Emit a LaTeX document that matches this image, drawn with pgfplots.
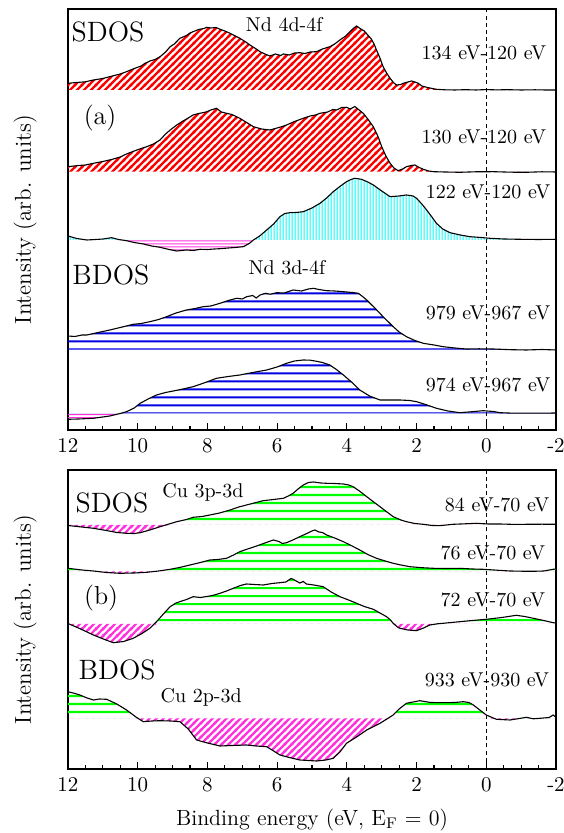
\documentclass[border=0pt]{standalone}
\usepackage{fontspec}
\usepackage{pgfplots}
\usepackage{pgfplotstable}
\pgfplotsset{compat=1.18}
\usetikzlibrary{patterns}

\definecolor{hotpink}{RGB}{255,50,220}
\definecolor{dblue}{RGB}{0,0,225}

% hatch patterns (colour set by pattern color)
\pgfdeclarepatternformonly{diagthick}{\pgfqpoint{0pt}{0pt}}{\pgfqpoint{3.4pt}{3.4pt}}{\pgfqpoint{3.4pt}{3.4pt}}{%
  \pgfsetlinewidth{1.15pt}
  \pgfpathmoveto{\pgfqpoint{-0.5pt}{-0.5pt}}\pgfpathlineto{\pgfqpoint{3.9pt}{3.9pt}}
  \pgfpathmoveto{\pgfqpoint{-0.5pt}{2.9pt}}\pgfpathlineto{\pgfqpoint{0.5pt}{3.9pt}}
  \pgfpathmoveto{\pgfqpoint{2.9pt}{-0.5pt}}\pgfpathlineto{\pgfqpoint{3.9pt}{0.5pt}}
  \pgfusepath{stroke}}
\pgfdeclarepatternformonly{vfine}{\pgfqpoint{0pt}{0pt}}{\pgfqpoint{1.5pt}{30pt}}{\pgfqpoint{1.5pt}{30pt}}{%
  \pgfsetlinewidth{0.7pt}
  \pgfpathmoveto{\pgfqpoint{0.75pt}{-1pt}}\pgfpathlineto{\pgfqpoint{0.75pt}{31pt}}
  \pgfusepath{stroke}}
\pgfdeclarepatternformonly{hfine}{\pgfqpoint{0pt}{0pt}}{\pgfqpoint{30pt}{1.5pt}}{\pgfqpoint{30pt}{1.5pt}}{%
  \pgfsetlinewidth{0.6pt}
  \pgfpathmoveto{\pgfqpoint{-1pt}{0.75pt}}\pgfpathlineto{\pgfqpoint{31pt}{0.75pt}}
  \pgfusepath{stroke}}
\pgfdeclarepatternformonly{hwide}{\pgfqpoint{0pt}{0pt}}{\pgfqpoint{40pt}{4pt}}{\pgfqpoint{40pt}{4pt}}{%
  \pgfsetlinewidth{1.1pt}
  \pgfpathmoveto{\pgfqpoint{-1pt}{2pt}}\pgfpathlineto{\pgfqpoint{41pt}{2pt}}
  \pgfusepath{stroke}}
\pgfdeclarepatternformonly{hwideg}{\pgfqpoint{0pt}{0pt}}{\pgfqpoint{42pt}{4.2pt}}{\pgfqpoint{42pt}{4.2pt}}{%
  \pgfsetlinewidth{1.1pt}
  \pgfpathmoveto{\pgfqpoint{-1pt}{2.1pt}}\pgfpathlineto{\pgfqpoint{43pt}{2.1pt}}
  \pgfusepath{stroke}}

\tikzset{
  redhatch/.style={pattern=diagthick, pattern color=red},
  pinkhatch/.style={pattern=diagthick, pattern color=hotpink},
  cyanvert/.style={pattern=vfine, pattern color=cyan},
  pinkhoriz/.style={pattern=hfine, pattern color=hotpink},
  bluehoriz/.style={pattern=hwide, pattern color=dblue},
  greenhoriz/.style={pattern=hwideg, pattern color=green},
}

% area above / below the baseline: curve clamped at the baseline, closed along it
% #1 table, #2 baseline, #3 fill style
\newcommand{\fillabove}[3]{%
  \addplot[#3, draw=none, y filter/.expression={max(y,#2)}] table {#1}
    -- (axis cs:-2,#2) -- (axis cs:12,#2) -- cycle;
}
\newcommand{\fillbelow}[3]{%
  \addplot[#3, draw=none, y filter/.expression={min(y,#2)}] table {#1}
    -- (axis cs:-2,#2) -- (axis cs:12,#2) -- cycle;
}
\newcommand{\curve}[1]{\addplot[black, line width=0.55pt] table {#1};}

% ---- panel (a): Nd ----
\pgfplotstableread{
E I
12.00 346.7
11.75 347.5
11.50 348.2
11.27 350.0
11.00 351.5
10.75 353.8
10.50 356.0
10.32 358.3
10.10 361.5
9.90 364.0
9.80 366.5
9.65 369.0
9.50 370.5
9.36 373.3
9.20 378.0
9.07 383.3
8.95 386.0
8.79 391.7
8.60 394.5
8.50 397.0
8.41 398.3
8.25 400.5
8.10 401.5
8.02 402.7
7.90 402.0
7.75 402.5
7.64 400.7
7.50 399.0
7.35 396.7
7.20 394.0
7.07 391.7
6.90 388.0
6.78 385.0
6.60 381.0
6.49 378.3
6.35 376.0
6.21 374.0
6.05 376.0
5.90 374.5
5.82 376.0
5.65 375.0
5.50 377.0
5.35 377.3
5.20 376.5
5.05 378.0
4.87 378.3
4.70 381.0
4.49 383.3
4.35 386.0
4.20 390.0
4.05 393.5
3.91 398.3
3.80 402.0
3.72 404.0
3.62 401.5
3.50 399.0
3.40 395.0
3.30 391.0
3.22 386.0
3.15 380.0
3.05 372.0
2.96 363.3
2.86 357.0
2.76 351.7
2.65 347.0
2.57 345.0
2.45 345.5
2.38 346.7
2.25 348.0
2.14 349.0
2.05 348.0
1.95 346.7
1.85 344.0
1.71 342.7
1.55 341.5
1.43 340.7
1.20 340.2
0.90 340.0
0.60 340.3
0.30 340.0
0.00 340.4
-0.30 340.1
-0.60 340.3
-1.00 340.0
-1.40 340.2
-1.70 340.0
-2.00 340.0
}\ndA

\pgfplotstableread{
E I
12.00 263.3
11.70 264.5
11.50 265.0
11.27 266.7
11.00 268.5
10.75 270.5
10.50 273.0
10.32 276.0
10.10 279.0
9.90 281.5
9.74 283.3
9.55 286.0
9.36 290.0
9.20 296.0
9.05 300.5
8.88 305.0
8.70 309.0
8.55 312.0
8.41 315.0
8.25 316.5
8.10 317.5
8.02 318.3
7.90 320.0
7.74 321.7
7.60 318.0
7.45 316.7
7.30 315.5
7.07 311.7
6.90 308.0
6.68 303.3
6.45 301.0
6.21 300.0
6.00 302.0
5.85 303.5
5.73 305.0
5.50 308.5
5.25 311.7
5.05 314.0
4.90 315.0
4.77 316.7
4.55 318.0
4.40 320.5
4.29 320.0
4.15 322.5
4.01 322.7
3.90 321.0
3.77 323.5
3.65 320.0
3.53 316.7
3.40 311.0
3.24 303.3
3.10 293.0
3.00 283.3
2.88 274.0
2.76 266.7
2.65 262.0
2.53 259.3
2.40 261.0
2.29 263.3
2.15 264.5
2.05 265.0
1.95 263.0
1.81 260.7
1.65 259.0
1.52 258.3
1.20 258.0
0.76 257.7
0.30 258.2
-0.20 258.3
-0.70 257.8
-1.15 257.7
-1.60 258.2
-2.00 258.0
}\ndB

\pgfplotstableread{
E I
12.00 194.0
11.75 191.5
11.46 190.0
11.20 190.5
10.99 191.0
10.75 192.3
10.55 190.5
10.32 189.3
10.10 187.5
9.84 186.0
9.60 184.0
9.36 182.7
9.10 180.5
8.88 179.0
8.60 180.0
8.40 179.5
8.21 180.7
8.00 180.5
7.80 181.0
7.64 181.3
7.40 182.0
7.20 182.5
6.97 183.3
6.80 186.5
6.68 190.0
6.50 194.0
6.30 200.0
6.10 206.0
5.92 213.3
5.78 216.5
5.63 217.3
5.45 217.5
5.25 218.3
5.00 222.0
4.77 226.7
4.58 232.0
4.39 238.3
4.20 243.5
4.01 248.3
3.88 250.5
3.77 251.7
3.58 250.7
3.40 248.0
3.24 245.0
3.00 239.0
2.76 233.3
2.50 234.0
2.29 235.0
2.10 234.0
2.00 231.7
1.85 226.0
1.71 220.0
1.55 212.5
1.43 206.7
1.25 201.0
1.04 197.3
0.75 195.0
0.47 193.3
0.15 192.5
-0.10 191.7
-0.50 191.0
-0.96 190.7
-1.50 190.5
-2.00 190.7
}\ndC

\pgfplotstableread{
E I
12.00 94.0
11.80 93.5
11.60 95.0
11.46 95.0
11.20 97.0
11.00 98.5
10.80 100.0
10.50 102.5
10.13 105.7
9.90 106.5
9.65 108.3
9.40 110.5
9.17 113.3
8.90 117.0
8.60 120.0
8.35 121.5
8.12 123.3
7.90 124.0
7.64 126.7
7.40 129.5
7.16 131.7
7.00 131.0
6.87 133.3
6.70 134.5
6.60 132.0
6.49 135.0
6.34 136.7
6.20 135.8
6.01 137.3
5.80 137.0
5.54 140.0
5.30 139.0
5.10 141.0
4.96 141.7
4.80 140.5
4.58 139.3
4.35 139.0
4.10 138.3
3.85 137.5
3.67 136.7
3.55 133.5
3.43 130.0
3.19 121.7
2.96 113.3
2.67 103.3
2.50 98.0
2.29 93.3
2.05 89.5
1.81 86.7
1.50 85.0
1.24 83.3
0.90 82.0
0.57 81.0
0.20 81.2
-0.20 81.0
-0.70 80.3
-1.15 80.0
-1.60 80.5
-2.00 80.0
}\ndD

\pgfplotstableread{
E I
12.00 10.7
11.70 11.0
11.27 11.7
10.80 14.0
10.50 16.5
10.32 18.3
10.10 22.0
9.93 26.7
9.70 31.0
9.46 35.0
9.20 37.5
8.98 39.0
8.70 41.0
8.41 43.3
8.10 47.0
7.74 51.7
7.40 53.5
7.07 55.0
6.70 57.5
6.30 60.0
6.00 63.0
5.73 66.7
5.50 69.0
5.25 70.0
5.05 69.8
4.87 68.7
4.70 67.5
4.49 65.0
4.30 60.5
4.10 55.0
3.85 47.5
3.63 40.0
3.35 34.0
3.05 30.0
2.75 30.0
2.48 30.0
2.20 29.5
2.00 28.3
1.70 25.0
1.43 21.7
1.10 19.0
0.76 17.3
0.40 18.3
0.09 19.3
-0.20 18.5
-0.39 17.3
-0.70 16.9
-0.96 16.8
-1.54 16.8
-2.00 17.0
}\ndE

% ---- panel (b): Cu ----
\pgfplotstableread{
E I
12.00 243.5
11.60 242.0
11.27 240.7
10.90 238.5
10.60 236.5
10.32 235.7
10.10 235.5
9.93 236.3
9.65 239.0
9.36 242.3
9.10 245.0
8.88 247.3
8.60 249.5
8.41 251.7
8.15 252.5
7.93 254.0
7.65 256.0
7.35 259.0
7.10 262.0
6.88 264.0
6.60 266.5
6.40 268.3
6.10 269.5
5.82 270.7
5.68 273.0
5.54 275.7
5.40 280.0
5.25 284.0
5.10 286.5
4.96 287.0
4.75 286.0
4.58 285.7
4.35 285.5
4.10 285.0
3.95 284.0
3.82 282.3
3.62 277.5
3.43 272.3
3.25 267.5
3.05 262.3
2.85 257.0
2.67 252.3
2.45 249.0
2.29 247.3
2.05 245.5
1.81 244.7
1.55 243.5
1.33 243.3
1.15 244.0
0.95 244.7
0.60 245.2
0.28 245.7
-0.05 245.0
-0.39 245.0
-0.80 244.6
-1.15 244.7
-1.60 244.8
-2.00 244.7
}\cuA

\pgfplotstableread{
E I
12.00 200.7
11.60 199.0
11.27 198.0
10.90 196.5
10.51 195.7
10.10 196.0
9.74 196.7
9.40 198.0
9.07 199.7
8.80 201.5
8.50 204.0
8.20 206.5
7.93 209.0
7.70 209.5
7.45 210.7
7.25 214.0
7.07 217.3
6.85 220.0
6.59 223.0
6.35 226.0
6.11 229.0
5.95 227.5
5.85 225.5
5.73 226.3
5.55 229.0
5.35 232.3
5.15 235.5
5.00 238.0
4.92 239.0
4.80 237.0
4.70 236.5
4.58 234.0
4.35 231.0
4.10 227.3
3.85 223.0
3.63 219.0
3.40 214.5
3.15 210.7
2.90 208.0
2.67 205.7
2.45 204.0
2.19 202.3
1.85 201.3
1.52 200.7
1.15 200.5
0.76 200.7
0.40 200.0
0.09 199.7
-0.30 198.8
-0.68 198.0
-1.00 197.8
-1.35 197.7
-1.65 198.0
-1.92 199.7
-2.00 200.0
}\cuB

\pgfplotstableread{
E I
12.00 145.5
11.70 141.0
11.27 134.0
10.95 129.5
10.70 126.3
10.40 127.5
10.13 130.7
9.90 135.0
9.65 140.7
9.46 147.3
9.25 155.5
9.07 162.3
8.90 166.0
8.79 167.3
8.60 169.5
8.41 172.3
8.20 171.5
7.93 173.0
7.80 174.0
7.64 175.7
7.45 178.0
7.26 180.7
7.05 183.5
6.88 185.0
6.65 184.5
6.40 184.0
6.15 185.5
5.92 186.3
5.75 187.0
5.60 190.5
5.54 189.7
5.35 186.0
5.25 187.5
5.16 185.0
4.95 184.0
4.68 182.3
4.45 177.0
4.20 172.3
3.95 169.0
3.72 165.7
3.50 162.5
3.24 159.7
3.05 156.0
2.86 152.3
2.75 149.0
2.67 145.7
2.55 142.0
2.48 140.7
2.25 139.0
2.00 138.3
1.80 141.0
1.62 144.0
1.40 145.2
1.24 145.7
0.76 147.3
0.40 148.5
0.00 149.7
-0.45 151.5
-0.86 153.7
-1.10 152.5
-1.35 150.7
-1.65 148.5
-1.92 146.3
-2.00 146.0
}\cuC

\pgfplotstableread{
E I
12.00 77.3
11.85 76.0
11.66 74.0
11.45 71.0
11.27 69.0
11.10 70.0
10.89 69.7
10.60 65.0
10.32 59.0
10.05 52.0
9.84 47.3
9.60 48.0
9.36 48.3
9.05 48.0
8.79 47.3
8.55 40.0
8.31 29.0
8.00 26.0
7.64 23.0
7.30 23.5
6.88 24.0
6.60 23.0
6.30 22.3
6.10 18.0
5.92 14.0
5.65 11.5
5.35 9.0
5.10 8.5
4.87 8.0
4.60 9.0
4.39 10.7
4.20 17.0
4.01 25.7
3.70 32.5
3.43 39.0
3.20 43.0
3.05 45.7
2.85 50.0
2.67 54.0
2.50 60.0
2.29 65.7
2.10 67.0
1.91 68.3
1.60 66.5
1.24 66.3
0.90 66.5
0.66 67.3
0.50 66.5
0.37 64.0
0.15 58.0
0.00 54.0
-0.29 49.7
-0.68 49.0
-0.95 50.5
-1.15 51.7
-1.35 50.2
-1.54 50.7
-1.80 51.5
-1.92 54.0
-2.00 51.7
}\cuD

\pgfplotsset{
  panel/.style={
    scale only axis,
    width=244pt,
    xmin=-2, xmax=12,
    x dir=reverse,
    axis line style={line width=0.7pt},
    xtick={12,10,8,6,4,2,0,-2},
    xticklabels={12,10,8,6,4,2,0,-2},
    minor x tick num=3,
    xtick pos=left,
    ytick=\empty,
    tick align=inside,
    major tick length=3.5pt,
    minor tick length=2pt,
    tick style={line width=0.6pt, black},
    xticklabel style={font=\fontsize{10.5}{12}\selectfont, yshift=-0.5pt},
    ylabel={Intensity (arb. units)},
    ylabel style={at={(axis description cs:-0.088,0.5)}, anchor=center,
                  font=\fontsize{11.5}{13}\selectfont},
  },
}

\begin{document}
\begin{tikzpicture}

% ===== (a) =====
\begin{axis}[panel, at={(34pt,201.5pt)}, anchor=south west,
  height=210.5pt, ymin=0, ymax=421]
  \fillabove{\ndA}{340}{redhatch}
  \fillabove{\ndB}{258.3}{redhatch}
  \fillabove{\ndC}{190}{cyanvert}
  \fillbelow{\ndC}{190}{pinkhoriz}
  \fillabove{\ndD}{80.3}{bluehoriz}
  \fillabove{\ndE}{16.7}{bluehoriz}
  \fillbelow{\ndE}{16.7}{pinkhoriz}
  \curve{\ndA}
  \curve{\ndB}
  \curve{\ndC}
  \curve{\ndD}
  \curve{\ndE}
  \addplot[black, line width=0.6pt, dash pattern=on 2pt off 1.6pt] coordinates {(0,0) (0,421)};

  \node[font=\fontsize{14}{16}\selectfont] at (axis cs:10.85,398) {SDOS};
  \node[font=\fontsize{10}{12}\selectfont] at (axis cs:5.80,405) {Nd 4d-4f};
  \node[font=\fontsize{10}{12}\selectfont] at (axis cs:0.07,377) {134 eV-120 eV};
  \node[font=\fontsize{13}{15}\selectfont] at (axis cs:11.08,312) {(a)};
  \node[font=\fontsize{10}{12}\selectfont] at (axis cs:0.07,293) {130 eV-120 eV};
  \node[font=\fontsize{10}{12}\selectfont] at (axis cs:-0.05,238) {122 eV-120 eV};
  \node[font=\fontsize{14}{16}\selectfont] at (axis cs:10.77,155) {BDOS};
  \node[font=\fontsize{10}{12}\selectfont] at (axis cs:5.72,162) {Nd 3d-4f};
  \node[font=\fontsize{10}{12}\selectfont] at (axis cs:-0.05,117) {979 eV-967 eV};
  \node[font=\fontsize{10}{12}\selectfont] at (axis cs:-0.05,45) {974 eV-967 eV};
\end{axis}

% ===== (b) =====
\begin{axis}[panel, at={(34pt,32pt)}, anchor=south west,
  height=149.5pt, ymin=0, ymax=299,
  xlabel={Binding energy (eV, E\textsubscript{F} = 0)},
  xlabel style={at={(axis description cs:0.5,-0.171)}, anchor=center,
                font=\fontsize{11}{13}\selectfont}]
  \fillabove{\cuA}{244}{greenhoriz}
  \fillbelow{\cuA}{244}{pinkhatch}
  \fillabove{\cuB}{197.5}{greenhoriz}
  \fillbelow{\cuB}{197.5}{pinkhatch}
  \fillabove{\cuC}{145}{greenhoriz}
  \fillbelow{\cuC}{145}{pinkhatch}
  \fillabove{\cuD}{50.7}{greenhoriz}
  \fillbelow{\cuD}{50.7}{pinkhatch}
  \curve{\cuA}
  \curve{\cuB}
  \curve{\cuC}
  \curve{\cuD}
  \addplot[black, line width=0.6pt, dash pattern=on 2pt off 1.6pt] coordinates {(0,0) (0,299)};

  \node[font=\fontsize{14}{16}\selectfont] at (axis cs:10.74,266) {SDOS};
  \node[font=\fontsize{10}{12}\selectfont] at (axis cs:8.13,277) {Cu 3p-3d};
  \node[font=\fontsize{10}{12}\selectfont] at (axis cs:-0.31,264) {84 eV-70 eV};
  \node[font=\fontsize{10}{12}\selectfont] at (axis cs:-0.19,216) {76 eV-70 eV};
  \node[font=\fontsize{13}{15}\selectfont] at (axis cs:11.05,171) {(b)};
  \node[font=\fontsize{10}{12}\selectfont] at (axis cs:-0.19,169) {72 eV-70 eV};
  \node[font=\fontsize{14}{16}\selectfont] at (axis cs:10.59,99) {BDOS};
  \node[font=\fontsize{10}{12}\selectfont] at (axis cs:8.18,72) {Cu 2p-3d};
  \node[font=\fontsize{10}{12}\selectfont] at (axis cs:-0.02,89) {933 eV-930 eV};
\end{axis}

\pgfresetboundingbox
\path[use as bounding box] (0,0) rectangle (281.5pt,416.5pt);
\end{tikzpicture}
\end{document}
